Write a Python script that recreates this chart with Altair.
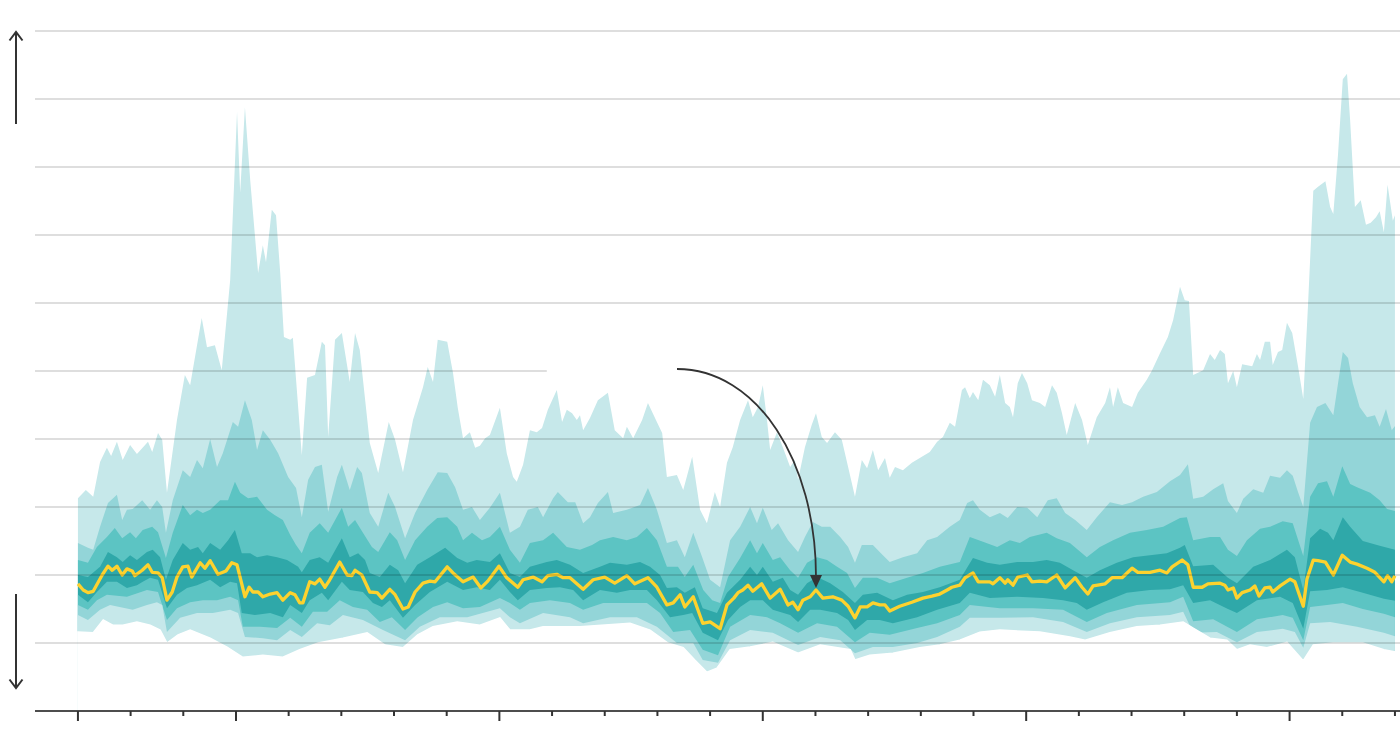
import altair as alt
import pandas as pd

# ---------------- data (years, value) ----------------
outer_hi_t = [
    1997.00, 1997.15, 1997.29, 1997.42, 1997.55, 1997.63, 1997.74, 1997.85, 1997.99, 1998.12,
    1998.33, 1998.41, 1998.52, 1998.60, 1998.69, 1998.88, 1999.03, 1999.13, 1999.35, 1999.45,
    1999.60, 1999.73, 1999.89, 2000.02, 2000.08, 2000.17, 2000.27, 2000.42, 2000.51, 2000.57,
    2000.68, 2000.76, 2000.84, 2000.91, 2001.03, 2001.08, 2001.25, 2001.35, 2001.50, 2001.63,
    2001.69, 2001.75, 2001.88, 2002.01, 2002.16, 2002.26, 2002.35, 2002.54, 2002.70, 2002.90,
    2003.02, 2003.17, 2003.36, 2003.55, 2003.64, 2003.74, 2003.83, 2004.01, 2004.12, 2004.21,
    2004.31, 2004.44, 2004.54, 2004.63, 2004.73, 2004.82, 2005.01, 2005.14, 2005.26, 2005.33,
    2005.45, 2005.58, 2005.71, 2005.81, 2005.92, 2006.09, 2006.19, 2006.28, 2006.38, 2006.47,
    2006.53, 2006.59, 2006.72, 2006.87, 2007.06, 2007.19, 2007.35, 2007.42, 2007.54, 2007.71,
    2007.82, 2007.99, 2008.09, 2008.18, 2008.37, 2008.49, 2008.66, 2008.81, 2008.94, 2009.09,
    2009.19, 2009.32, 2009.43, 2009.57, 2009.72, 2009.81, 2009.91, 2010.00, 2010.08, 2010.14,
    2010.27, 2010.38, 2010.52, 2010.61, 2010.67, 2010.80, 2010.93, 2011.01, 2011.12, 2011.22,
    2011.37, 2011.50, 2011.62, 2011.75, 2011.88, 2011.98, 2012.09, 2012.19, 2012.32, 2012.41,
    2012.51, 2012.66, 2012.83, 2013.02, 2013.17, 2013.31, 2013.42, 2013.55, 2013.65, 2013.78,
    2013.84, 2013.93, 2013.99, 2014.09, 2014.18, 2014.31, 2014.41, 2014.50, 2014.60, 2014.69,
    2014.75, 2014.84, 2014.92, 2015.02, 2015.11, 2015.26, 2015.36, 2015.49, 2015.58, 2015.68,
    2015.77, 2015.93, 2016.06, 2016.17, 2016.34, 2016.50, 2016.59, 2016.65, 2016.74, 2016.84,
    2017.01, 2017.12, 2017.29, 2017.39, 2017.54, 2017.69, 2017.79, 2017.92, 2018.01, 2018.09,
    2018.17, 2018.36, 2018.49, 2018.58, 2018.68, 2018.77, 2018.83, 2018.93, 2019.00, 2019.10,
    2019.29, 2019.38, 2019.44, 2019.53, 2019.63, 2019.68, 2019.78, 2019.86, 2019.95, 2020.05,
    2020.16, 2020.26, 2020.35, 2020.45, 2020.54, 2020.68, 2020.77, 2020.83, 2020.92, 2021.01,
    2021.09, 2021.15, 2021.24, 2021.35, 2021.45, 2021.54, 2021.64, 2021.71, 2021.79, 2021.86,
    2021.96, 2022.00,
]
outer_hi_v = [
    3.13, 3.25, 3.15, 3.66, 3.87, 3.75, 3.96, 3.69, 3.91, 3.78,
    3.96, 3.81, 4.09, 3.99, 3.21, 4.28, 4.94, 4.79, 5.78, 5.35,
    5.38, 5.01, 6.34, 8.81, 7.62, 8.88, 7.81, 6.44, 6.85, 6.60,
    7.37, 7.29, 6.44, 5.50, 5.46, 5.49, 3.76, 4.90, 4.94, 5.43,
    5.38, 4.03, 5.46, 5.56, 4.84, 5.56, 5.31, 3.94, 3.50, 4.25,
    3.99, 3.51, 4.28, 4.76, 5.06, 4.84, 5.46, 5.43, 4.97, 4.46,
    4.01, 4.10, 3.87, 3.90, 4.01, 4.06, 4.46, 3.79, 3.44, 3.37,
    3.62, 4.13, 4.10, 4.16, 4.43, 4.72, 4.25, 4.43, 4.38, 4.28,
    4.35, 4.13, 4.31, 4.57, 4.68, 4.13, 4.01, 4.18, 4.01, 4.28,
    4.53, 4.25, 4.09, 3.44, 3.47, 3.25, 3.74, 2.96, 2.76, 3.22,
    3.00, 3.65, 3.88, 4.28, 4.57, 4.32, 4.47, 4.79, 4.28, 3.84,
    4.10, 3.88, 3.59, 3.69, 3.40, 3.88, 4.21, 4.38, 4.03, 3.94,
    4.10, 3.99, 3.59, 3.15, 3.69, 3.57, 3.84, 3.54, 3.72, 3.43,
    3.59, 3.54, 3.65, 3.74, 3.81, 3.96, 4.03, 4.24, 4.18, 4.72,
    4.76, 4.60, 4.69, 4.57, 4.87, 4.79, 4.62, 4.94, 4.53, 4.47,
    4.32, 4.82, 4.97, 4.82, 4.57, 4.53, 4.47, 4.79, 4.68, 4.38,
    4.06, 4.53, 4.28, 3.91, 4.32, 4.53, 4.76, 4.47, 4.76, 4.53,
    4.47, 4.68, 4.87, 5.01, 5.26, 5.50, 5.75, 6.24, 6.04, 6.03,
    4.94, 5.01, 5.25, 5.16, 5.31, 5.25, 4.82, 5.00, 4.76, 5.10,
    5.07, 5.25, 5.16, 5.43, 5.43, 5.09, 5.28, 5.31, 5.71, 5.56,
    5.07, 4.59, 5.97, 7.65, 7.71, 7.79, 7.41, 7.31, 8.19, 9.29,
    9.37, 8.68, 7.41, 7.51, 7.15, 7.18, 7.26, 7.35, 7.04, 7.74,
    7.21, 7.29,
]

mid_hi_t = [
    1997.00, 1997.19, 1997.29, 1997.42, 1997.57, 1997.74, 1997.84, 1997.93, 1998.04, 1998.22,
    1998.37, 1998.50, 1998.60, 1998.67, 1998.80, 1998.99, 1999.13, 1999.26, 1999.37, 1999.51,
    1999.64, 1999.75, 1999.94, 2000.04, 2000.17, 2000.30, 2000.40, 2000.51, 2000.65, 2000.80,
    2000.99, 2001.14, 2001.25, 2001.37, 2001.50, 2001.63, 2001.75, 2001.92, 2002.01, 2002.16,
    2002.30, 2002.39, 2002.54, 2002.70, 2002.89, 2003.02, 2003.21, 2003.40, 2003.63, 2003.83,
    2004.01, 2004.16, 2004.31, 2004.48, 2004.63, 2004.82, 2005.01, 2005.20, 2005.39, 2005.54,
    2005.73, 2005.83, 2006.02, 2006.11, 2006.30, 2006.44, 2006.59, 2006.72, 2006.87, 2007.06,
    2007.16, 2007.42, 2007.67, 2007.82, 2007.99, 2008.18, 2008.37, 2008.52, 2008.68, 2008.85,
    2009.00, 2009.19, 2009.38, 2009.57, 2009.76, 2009.89, 2010.00, 2010.17, 2010.29, 2010.48,
    2010.67, 2010.80, 2010.95, 2011.12, 2011.28, 2011.47, 2011.62, 2011.75, 2011.88, 2012.09,
    2012.28, 2012.41, 2012.66, 2012.93, 2013.12, 2013.31, 2013.55, 2013.74, 2013.88, 2013.99,
    2014.12, 2014.31, 2014.50, 2014.65, 2014.83, 2015.02, 2015.21, 2015.41, 2015.58, 2015.74,
    2015.93, 2016.15, 2016.34, 2016.59, 2016.82, 2017.01, 2017.22, 2017.48, 2017.73, 2017.92,
    2018.07, 2018.17, 2018.36, 2018.55, 2018.74, 2018.83, 2019.00, 2019.12, 2019.31, 2019.50,
    2019.63, 2019.82, 2019.95, 2020.06, 2020.16, 2020.26, 2020.39, 2020.52, 2020.68, 2020.83,
    2020.92, 2021.01, 2021.11, 2021.20, 2021.33, 2021.47, 2021.62, 2021.71, 2021.83, 2021.94,
    2022.00,
]
mid_hi_v = [
    2.47, 2.40, 2.37, 2.71, 3.06, 3.18, 2.81, 2.96, 2.97, 3.10,
    2.96, 3.10, 3.00, 2.62, 3.10, 3.54, 3.44, 3.69, 3.57, 4.00,
    3.59, 3.79, 4.25, 4.18, 4.57, 4.28, 3.84, 4.13, 3.99, 3.79,
    3.44, 3.28, 2.85, 3.40, 3.59, 3.62, 2.93, 3.44, 3.62, 3.25,
    3.59, 3.50, 2.91, 2.71, 3.21, 3.00, 2.54, 2.91, 3.25, 3.51,
    3.50, 3.29, 2.96, 3.00, 2.81, 2.99, 3.21, 2.62, 2.71, 2.96,
    3.00, 2.85, 3.13, 3.22, 3.07, 3.07, 2.76, 2.85, 3.06, 3.22,
    2.91, 2.96, 3.03, 3.28, 2.96, 2.47, 2.51, 2.26, 2.62, 2.26,
    1.93, 1.82, 2.51, 2.71, 3.00, 2.76, 2.99, 2.66, 2.76, 2.51,
    2.34, 2.56, 2.78, 2.71, 2.71, 2.56, 2.41, 2.18, 2.44, 2.44,
    2.29, 2.19, 2.26, 2.32, 2.51, 2.56, 2.71, 2.81, 3.06, 3.10,
    2.96, 2.85, 2.91, 2.84, 3.00, 2.99, 2.85, 3.10, 3.13, 2.91,
    2.81, 2.66, 2.85, 3.07, 3.03, 3.07, 3.15, 3.22, 3.38, 3.47,
    3.63, 3.12, 3.15, 3.26, 3.35, 3.09, 2.91, 3.12, 3.26, 3.21,
    3.46, 3.43, 3.54, 3.46, 3.22, 3.00, 4.24, 4.47, 4.53, 4.35,
    4.82, 5.28, 5.19, 4.82, 4.47, 4.32, 4.35, 4.18, 4.44, 4.13,
    4.19,
]

in2_hi_t = [
    1997.00, 1997.19, 1997.36, 1997.55, 1997.70, 1997.84, 1997.99, 1998.10, 1998.23, 1998.41,
    1998.52, 1998.67, 1998.80, 1998.99, 1999.13, 1999.26, 1999.37, 1999.51, 1999.70, 1999.85,
    1999.98, 2000.08, 2000.23, 2000.40, 2000.59, 2000.74, 2000.89, 2001.03, 2001.14, 2001.25,
    2001.40, 2001.59, 2001.75, 2002.01, 2002.13, 2002.26, 2002.41, 2002.58, 2002.70, 2002.92,
    2003.06, 2003.21, 2003.40, 2003.63, 2003.82, 2004.01, 2004.20, 2004.31, 2004.48, 2004.67,
    2004.82, 2005.01, 2005.20, 2005.39, 2005.58, 2005.83, 2006.02, 2006.28, 2006.53, 2006.76,
    2006.91, 2007.16, 2007.42, 2007.61, 2007.80, 2007.99, 2008.18, 2008.39, 2008.52, 2008.68,
    2008.87, 2009.04, 2009.19, 2009.34, 2009.57, 2009.76, 2009.89, 2010.00, 2010.19, 2010.33,
    2010.52, 2010.67, 2010.84, 2011.03, 2011.22, 2011.41, 2011.60, 2011.75, 2011.90, 2012.17,
    2012.41, 2012.74, 2013.04, 2013.36, 2013.74, 2013.93, 2014.18, 2014.45, 2014.69, 2014.88,
    2015.07, 2015.39, 2015.58, 2015.83, 2016.15, 2016.40, 2016.65, 2016.97, 2017.29, 2017.60,
    2017.92, 2018.05, 2018.17, 2018.49, 2018.68, 2018.83, 2019.00, 2019.19, 2019.44, 2019.63,
    2019.87, 2020.06, 2020.26, 2020.39, 2020.54, 2020.71, 2020.83, 2021.00, 2021.15, 2021.28,
    2021.53, 2021.71, 2021.85, 2022.00,
]
in2_hi_v = [
    2.22, 2.18, 2.41, 2.56, 2.69, 2.54, 2.63, 2.54, 2.66, 2.71,
    2.63, 2.25, 2.62, 3.03, 2.88, 2.96, 2.91, 2.96, 3.10, 3.10,
    3.37, 3.21, 3.13, 3.15, 2.96, 2.88, 2.81, 2.59, 2.44, 2.32,
    2.62, 2.76, 2.62, 2.99, 2.71, 2.81, 2.62, 2.41, 2.34, 2.63,
    2.51, 2.22, 2.51, 2.71, 2.84, 2.85, 2.71, 2.51, 2.62, 2.51,
    2.56, 2.71, 2.37, 2.18, 2.47, 2.51, 2.62, 2.41, 2.37, 2.44,
    2.51, 2.56, 2.51, 2.56, 2.69, 2.51, 2.12, 2.12, 1.97, 2.15,
    1.78, 1.63, 1.59, 1.97, 2.25, 2.51, 2.32, 2.47, 2.22, 2.26,
    2.07, 1.96, 2.18, 2.26, 2.22, 2.12, 2.03, 1.81, 1.96, 1.96,
    1.88, 1.96, 2.03, 2.12, 2.19, 2.56, 2.49, 2.41, 2.51, 2.47,
    2.56, 2.62, 2.54, 2.47, 2.26, 2.41, 2.51, 2.62, 2.66, 2.71,
    2.84, 2.85, 2.51, 2.56, 2.56, 2.37, 2.28, 2.51, 2.68, 2.71,
    2.79, 2.76, 2.28, 3.15, 3.35, 3.38, 3.15, 3.60, 3.34, 3.29,
    3.21, 3.10, 2.97, 2.94,
]

in1_hi_t = [
    1997.00, 1997.19, 1997.42, 1997.57, 1997.74, 1997.85, 1997.99, 1998.12, 1998.31, 1998.42,
    1998.56, 1998.67, 1998.80, 1998.99, 1999.13, 1999.28, 1999.37, 1999.51, 1999.70, 1999.85,
    1999.98, 2000.11, 2000.27, 2000.40, 2000.59, 2000.78, 2000.97, 2001.18, 2001.25, 2001.40,
    2001.59, 2001.75, 2002.01, 2002.16, 2002.32, 2002.45, 2002.54, 2002.73, 2002.92, 2003.08,
    2003.21, 2003.44, 2003.68, 2003.97, 2004.20, 2004.39, 2004.57, 2004.82, 2005.01, 2005.20,
    2005.39, 2005.58, 2005.90, 2006.09, 2006.34, 2006.59, 2006.91, 2007.10, 2007.42, 2007.67,
    2007.86, 2008.05, 2008.18, 2008.37, 2008.52, 2008.71, 2008.86, 2009.13, 2009.32, 2009.57,
    2009.76, 2009.89, 2010.00, 2010.19, 2010.38, 2010.52, 2010.67, 2010.84, 2011.03, 2011.28,
    2011.52, 2011.75, 2011.90, 2012.17, 2012.47, 2012.74, 2013.04, 2013.36, 2013.74, 2013.99,
    2014.26, 2014.50, 2014.83, 2015.13, 2015.39, 2015.64, 2015.89, 2016.15, 2016.40, 2016.72,
    2017.03, 2017.35, 2017.67, 2017.92, 2018.01, 2018.17, 2018.55, 2018.83, 2019.00, 2019.31,
    2019.63, 2019.95, 2020.10, 2020.26, 2020.39, 2020.58, 2020.73, 2020.83, 2021.01, 2021.15,
    2021.39, 2021.71, 2022.00,
]
in1_hi_v = [
    2.00, 1.97, 2.12, 2.34, 2.26, 2.19, 2.29, 2.22, 2.34, 2.37,
    2.26, 1.93, 2.22, 2.47, 2.37, 2.41, 2.32, 2.47, 2.37, 2.51,
    2.66, 2.32, 2.32, 2.26, 2.29, 2.26, 2.22, 2.12, 2.04, 2.22,
    2.26, 2.18, 2.54, 2.26, 2.32, 2.22, 2.03, 1.97, 2.15, 2.07,
    1.88, 2.15, 2.26, 2.40, 2.25, 2.18, 2.22, 2.19, 2.32, 2.03,
    1.97, 2.12, 2.19, 2.22, 2.15, 2.03, 2.12, 2.18, 2.15, 2.19,
    2.12, 2.00, 1.81, 1.82, 1.74, 1.82, 1.51, 1.44, 1.74, 1.93,
    2.12, 2.00, 2.12, 1.90, 1.96, 1.78, 1.71, 1.88, 1.97, 1.88,
    1.75, 1.59, 1.71, 1.74, 1.63, 1.71, 1.75, 1.82, 1.93, 2.25,
    2.18, 2.15, 2.19, 2.19, 2.22, 2.18, 2.07, 1.96, 2.07, 2.18,
    2.26, 2.29, 2.32, 2.40, 2.44, 2.13, 2.15, 1.96, 1.88, 2.12,
    2.22, 2.37, 2.26, 1.78, 2.54, 2.68, 2.62, 2.51, 2.85, 2.71,
    2.50, 2.43, 2.37,
]

median_t = [
    1997.00, 1997.10, 1997.19, 1997.29, 1997.46, 1997.57, 1997.65, 1997.74, 1997.84, 1997.93,
    1998.03, 1998.08, 1998.22, 1998.33, 1998.41, 1998.52, 1998.60, 1998.69, 1998.79, 1998.88,
    1998.99, 1999.09, 1999.16, 1999.32, 1999.41, 1999.51, 1999.66, 1999.81, 1999.92, 2000.02,
    2000.17, 2000.25, 2000.32, 2000.42, 2000.51, 2000.65, 2000.78, 2000.89, 2001.03, 2001.12,
    2001.21, 2001.27, 2001.40, 2001.50, 2001.59, 2001.69, 2001.78, 2001.97, 2002.11, 2002.20,
    2002.26, 2002.39, 2002.54, 2002.68, 2002.77, 2002.92, 2003.02, 2003.17, 2003.27, 2003.40,
    2003.55, 2003.68, 2003.78, 2004.01, 2004.12, 2004.31, 2004.50, 2004.65, 2004.78, 2004.99,
    2005.14, 2005.35, 2005.45, 2005.64, 2005.81, 2005.92, 2006.09, 2006.21, 2006.34, 2006.59,
    2006.78, 2007.00, 2007.19, 2007.42, 2007.57, 2007.82, 2007.99, 2008.18, 2008.30, 2008.43,
    2008.52, 2008.68, 2008.86, 2009.00, 2009.19, 2009.32, 2009.45, 2009.53, 2009.62, 2009.72,
    2009.81, 2009.98, 2010.14, 2010.33, 2010.48, 2010.57, 2010.67, 2010.76, 2010.90, 2011.01,
    2011.14, 2011.33, 2011.50, 2011.62, 2011.75, 2011.85, 2011.98, 2012.09, 2012.22, 2012.32,
    2012.41, 2012.60, 2012.83, 2013.04, 2013.21, 2013.36, 2013.50, 2013.59, 2013.74, 2013.84,
    2013.99, 2014.09, 2014.31, 2014.37, 2014.50, 2014.60, 2014.65, 2014.75, 2014.84, 2015.02,
    2015.11, 2015.26, 2015.39, 2015.58, 2015.74, 2015.93, 2016.06, 2016.17, 2016.27, 2016.50,
    2016.63, 2016.82, 2017.01, 2017.12, 2017.35, 2017.54, 2017.67, 2017.77, 2017.96, 2018.07,
    2018.17, 2018.34, 2018.45, 2018.68, 2018.77, 2018.83, 2018.93, 2019.00, 2019.10, 2019.25,
    2019.34, 2019.42, 2019.53, 2019.63, 2019.68, 2019.82, 2020.01, 2020.10, 2020.26, 2020.33,
    2020.45, 2020.54, 2020.68, 2020.83, 2021.00, 2021.15, 2021.28, 2021.47, 2021.62, 2021.79,
    2021.86, 2021.94, 2022.00,
]
median_v = [
    1.87, 1.78, 1.74, 1.76, 2.00, 2.13, 2.07, 2.13, 2.00, 2.09,
    2.06, 1.99, 2.07, 2.15, 2.04, 2.03, 1.96, 1.63, 1.75, 1.97,
    2.12, 2.13, 1.97, 2.18, 2.10, 2.21, 2.01, 2.06, 2.18, 2.15,
    1.68, 1.82, 1.75, 1.75, 1.68, 1.72, 1.74, 1.63, 1.74, 1.71,
    1.59, 1.59, 1.90, 1.87, 1.94, 1.82, 1.93, 2.19, 2.00, 1.99,
    2.07, 2.00, 1.75, 1.74, 1.66, 1.79, 1.71, 1.50, 1.53, 1.75,
    1.88, 1.91, 1.90, 2.12, 2.03, 1.90, 1.97, 1.81, 1.91, 2.13,
    1.96, 1.82, 1.93, 1.97, 1.90, 1.99, 2.01, 1.96, 1.96, 1.79,
    1.93, 1.97, 1.88, 1.99, 1.87, 1.96, 1.82, 1.56, 1.59, 1.71,
    1.53, 1.68, 1.29, 1.31, 1.21, 1.56, 1.66, 1.74, 1.78, 1.85,
    1.76, 1.87, 1.66, 1.79, 1.56, 1.60, 1.49, 1.63, 1.68, 1.78,
    1.66, 1.68, 1.63, 1.54, 1.37, 1.53, 1.53, 1.59, 1.56, 1.56,
    1.47, 1.54, 1.60, 1.66, 1.69, 1.72, 1.78, 1.82, 1.85, 1.96,
    2.03, 1.90, 1.90, 1.87, 1.96, 1.88, 1.93, 1.85, 1.97, 2.00,
    1.90, 1.91, 1.90, 2.00, 1.81, 1.96, 1.82, 1.72, 1.84, 1.87,
    1.96, 1.96, 2.10, 2.04, 2.04, 2.07, 2.03, 2.12, 2.22, 2.15,
    1.82, 1.82, 1.87, 1.88, 1.85, 1.78, 1.81, 1.66, 1.74, 1.78,
    1.84, 1.69, 1.81, 1.82, 1.75, 1.84, 1.94, 1.90, 1.54, 1.94,
    2.22, 2.21, 2.19, 2.00, 2.29, 2.19, 2.16, 2.10, 2.04, 1.90,
    1.99, 1.90, 1.99,
]

in1_lo_t = [
    1997.00, 1997.19, 1997.36, 1997.55, 1997.74, 1997.93, 1998.12, 1998.23, 1998.37, 1998.52,
    1998.69, 1998.88, 1999.07, 1999.26, 1999.51, 1999.70, 1999.89, 2000.02, 2000.11, 2000.36,
    2000.65, 2000.89, 2001.03, 2001.25, 2001.40, 2001.63, 2001.75, 2002.01, 2002.16, 2002.41,
    2002.60, 2002.77, 2002.92, 2003.17, 2003.40, 2003.68, 2004.01, 2004.31, 2004.57, 2004.82,
    2005.01, 2005.20, 2005.35, 2005.58, 2005.90, 2006.15, 2006.40, 2006.59, 2006.91, 2007.23,
    2007.48, 2007.80, 2007.99, 2008.24, 2008.49, 2008.66, 2008.86, 2009.15, 2009.34, 2009.57,
    2009.76, 2010.00, 2010.19, 2010.52, 2010.67, 2010.90, 2011.09, 2011.41, 2011.62, 2011.75,
    2011.98, 2012.22, 2012.47, 2012.93, 2013.31, 2013.74, 2013.93, 2014.31, 2014.83, 2015.32,
    2015.70, 2015.96, 2016.15, 2016.46, 2016.91, 2017.35, 2017.73, 2017.98, 2018.17, 2018.49,
    2018.83, 2019.00, 2019.38, 2019.82, 2020.06, 2020.26, 2020.39, 2020.71, 2021.01, 2021.39,
    2021.79, 2022.00,
]
in1_lo_v = [
    1.71, 1.60, 1.75, 1.90, 1.90, 1.81, 1.85, 1.90, 1.96, 1.93,
    1.51, 1.71, 1.81, 1.85, 1.93, 1.82, 1.90, 1.88, 1.44, 1.41,
    1.44, 1.38, 1.56, 1.44, 1.63, 1.74, 1.63, 1.90, 1.78, 1.75,
    1.59, 1.53, 1.63, 1.37, 1.56, 1.75, 1.90, 1.78, 1.82, 1.78,
    1.93, 1.75, 1.63, 1.78, 1.81, 1.82, 1.78, 1.63, 1.78, 1.74,
    1.78, 1.78, 1.63, 1.38, 1.41, 1.44, 1.15, 1.04, 1.34, 1.53,
    1.63, 1.63, 1.49, 1.41, 1.31, 1.49, 1.49, 1.44, 1.34, 1.19,
    1.34, 1.34, 1.29, 1.38, 1.49, 1.59, 1.74, 1.66, 1.68, 1.66,
    1.63, 1.59, 1.49, 1.60, 1.74, 1.78, 1.79, 1.85, 1.59, 1.63,
    1.50, 1.44, 1.63, 1.68, 1.59, 1.21, 1.76, 1.78, 1.82, 1.74,
    1.65, 1.62,
]

in2_lo_t = [
    1997.00, 1997.19, 1997.36, 1997.55, 1997.93, 1998.31, 1998.52, 1998.69, 1998.88, 1999.13,
    1999.37, 1999.64, 1999.89, 2000.04, 2000.13, 2000.46, 2000.78, 2001.03, 2001.25, 2001.46,
    2001.73, 2001.97, 2002.22, 2002.49, 2002.73, 2002.96, 2003.21, 2003.45, 2003.74, 2004.01,
    2004.31, 2004.63, 2005.01, 2005.20, 2005.39, 2005.58, 2005.96, 2006.34, 2006.59, 2006.97,
    2007.42, 2007.80, 2008.05, 2008.30, 2008.62, 2008.86, 2009.15, 2009.38, 2009.76, 2010.08,
    2010.33, 2010.67, 2011.03, 2011.41, 2011.75, 2012.03, 2012.41, 2012.93, 2013.31, 2013.74,
    2013.93, 2014.50, 2015.13, 2015.70, 2016.15, 2016.53, 2017.10, 2017.73, 2017.98, 2018.17,
    2018.55, 2019.00, 2019.38, 2019.87, 2020.06, 2020.26, 2020.39, 2020.71, 2021.01, 2021.39,
    2021.79, 2022.00,
]
in2_lo_v = [
    1.56, 1.49, 1.63, 1.71, 1.68, 1.78, 1.75, 1.34, 1.51, 1.60,
    1.63, 1.63, 1.68, 1.63, 1.24, 1.24, 1.22, 1.37, 1.24, 1.46,
    1.46, 1.63, 1.53, 1.49, 1.31, 1.38, 1.19, 1.38, 1.53, 1.60,
    1.51, 1.53, 1.66, 1.59, 1.49, 1.59, 1.63, 1.59, 1.49, 1.59,
    1.59, 1.59, 1.44, 1.16, 1.19, 0.90, 0.82, 1.24, 1.41, 1.38,
    1.29, 1.15, 1.29, 1.24, 1.01, 1.15, 1.12, 1.22, 1.29, 1.41,
    1.56, 1.51, 1.51, 1.49, 1.31, 1.44, 1.56, 1.60, 1.68, 1.32,
    1.35, 1.16, 1.35, 1.41, 1.37, 1.04, 1.53, 1.56, 1.59, 1.50,
    1.43, 1.38,
]

mid_lo_t = [
    1997.00, 1997.19, 1997.42, 1997.61, 1998.04, 1998.31, 1998.50, 1998.60, 1998.69, 1998.94,
    1999.26, 1999.56, 1999.89, 2000.04, 2000.17, 2000.51, 2000.78, 2001.03, 2001.25, 2001.54,
    2001.78, 2002.03, 2002.41, 2002.79, 2003.21, 2003.49, 2003.87, 2004.39, 2005.01, 2005.20,
    2005.39, 2005.83, 2006.34, 2006.59, 2007.10, 2007.61, 2007.99, 2008.37, 2008.68, 2008.86,
    2009.15, 2009.38, 2009.76, 2010.19, 2010.67, 2011.09, 2011.47, 2011.75, 2012.09, 2012.47,
    2012.93, 2013.31, 2013.74, 2013.93, 2014.50, 2015.13, 2015.70, 2016.15, 2016.59, 2017.10,
    2017.73, 2017.98, 2018.17, 2018.62, 2019.00, 2019.38, 2019.87, 2020.10, 2020.26, 2020.39,
    2020.77, 2021.28, 2021.79, 2022.00,
]
mid_lo_v = [
    1.41, 1.34, 1.49, 1.56, 1.49, 1.56, 1.60, 1.56, 1.16, 1.37,
    1.44, 1.44, 1.49, 1.44, 1.09, 1.07, 1.04, 1.19, 1.09, 1.29,
    1.26, 1.41, 1.34, 1.19, 1.04, 1.24, 1.38, 1.38, 1.51, 1.38,
    1.29, 1.44, 1.38, 1.29, 1.38, 1.38, 1.24, 1.00, 1.00, 0.75,
    0.71, 1.04, 1.19, 1.15, 0.97, 1.09, 1.04, 0.85, 0.94, 0.94,
    1.00, 1.09, 1.24, 1.37, 1.37, 1.38, 1.31, 1.16, 1.29, 1.38,
    1.41, 1.46, 1.15, 1.16, 1.01, 1.16, 1.21, 1.16, 0.93, 1.29,
    1.31, 1.24, 1.15, 1.10,
]

outer_lo_t = [
    1997.00, 1997.29, 1997.48, 1997.67, 1997.85, 1998.12, 1998.37, 1998.56, 1998.69, 1998.90,
    1999.13, 1999.51, 1999.83, 2000.13, 2000.51, 2000.89, 2001.21, 2001.56, 2002.03, 2002.49,
    2002.83, 2003.17, 2003.45, 2003.74, 2004.20, 2004.63, 2005.01, 2005.20, 2005.58, 2005.83,
    2006.53, 2007.48, 2007.86, 2008.20, 2008.49, 2008.71, 2008.94, 2009.13, 2009.38, 2009.76,
    2010.19, 2010.67, 2011.09, 2011.66, 2011.75, 2012.03, 2012.47, 2012.98, 2013.36, 2013.74,
    2014.12, 2014.50, 2015.26, 2015.83, 2016.12, 2016.59, 2017.10, 2017.54, 2017.98, 2018.17,
    2018.49, 2018.81, 2019.00, 2019.25, 2019.57, 2019.95, 2020.26, 2020.45, 2020.83, 2021.39,
    2021.79, 2022.00,
]
outer_lo_v = [
    1.16, 1.15, 1.34, 1.26, 1.26, 1.31, 1.26, 1.19, 1.00, 1.12,
    1.19, 1.07, 0.94, 0.79, 0.82, 0.79, 0.90, 1.00, 1.07, 1.15,
    0.97, 0.93, 1.12, 1.24, 1.31, 1.26, 1.37, 1.19, 1.19, 1.24,
    1.24, 1.29, 1.19, 1.00, 0.93, 0.75, 0.57, 0.63, 0.90, 0.94,
    1.01, 0.85, 0.97, 0.90, 0.75, 0.82, 0.85, 0.93, 0.97, 1.04,
    1.16, 1.19, 1.16, 1.09, 1.04, 1.15, 1.24, 1.26, 1.31, 1.22,
    1.07, 1.04, 0.90, 0.97, 0.93, 1.01, 0.74, 0.97, 1.00, 1.00,
    0.90, 0.87,
]

grid_values = [1, 2, 3, 4, 5, 6, 7, 8, 9, 10]
tick_years = list(range(1997, 2023))
major_years = [1997, 2000, 2005, 2010, 2015, 2020]

# ---------------- styling ----------------
X0, X1 = 1996.185, 2022.096
GAP = (2005.90, 2009.00)  # break in the gridline at value 5
C_OUTER = "#c6e8ea"
C_MID = "#93d5d8"
C_IN2 = "#5cc4c3"
C_IN1 = "#2fa8a9"
C_MED = "#fdd22e"
INK = "#333333"

xs = alt.Scale(domain=[X0, X1], nice=False, zero=False)
ys = alt.Scale(domain=[0, 10], nice=False, zero=False)


def fill_down(t, v, color, stroke=None):
    n = min(len(t), len(v))
    df = pd.DataFrame({"t": t[:n], "v": v[:n]})
    kw = dict(color=color, opacity=1, interpolate="linear")
    if stroke:
        kw.update(stroke=stroke, strokeWidth=1.5)
    return alt.Chart(df).mark_area(**kw).encode(
        x=alt.X("t:Q", scale=xs, axis=None),
        y=alt.Y("v:Q", scale=ys, axis=None, stack=None),
    )


layers = [
    fill_down(outer_hi_t, outer_hi_v, C_OUTER),
    fill_down(mid_hi_t, mid_hi_v, C_MID),
    fill_down(in2_hi_t, in2_hi_v, C_IN2),
    fill_down(in1_hi_t, in1_hi_v, C_IN1),
    fill_down(in1_lo_t, in1_lo_v, C_IN2),
    fill_down(in2_lo_t, in2_lo_v, C_MID),
    fill_down(mid_lo_t, mid_lo_v, C_OUTER),
    fill_down(outer_lo_t, outer_lo_v, "#ffffff", stroke="#ffffff"),
]

n = min(len(median_t), len(median_v))
med_df = pd.DataFrame({"t": median_t[:n], "v": median_v[:n]})
layers.append(
    alt.Chart(med_df).mark_line(color=C_MED, strokeWidth=3.3, strokeJoin="round").encode(
        x=alt.X("t:Q", scale=xs, axis=None),
        y=alt.Y("v:Q", scale=ys, axis=None),
    )
)

# gridlines
g_rows = []
for g in grid_values:
    if g == 5:
        g_rows.append({"v": g, "t0": X0, "t1": GAP[0]})
        g_rows.append({"v": g, "t0": GAP[1], "t1": X1})
    else:
        g_rows.append({"v": g, "t0": X0, "t1": X1})
grid_df = pd.DataFrame(g_rows)
layers.append(
    alt.Chart(grid_df).mark_rule(color="#000000", opacity=0.13, strokeWidth=2).encode(
        x=alt.X("t0:Q", scale=xs, axis=None),
        x2="t1:Q",
        y=alt.Y("v:Q", scale=ys, axis=None),
    )
)

# x axis baseline
base_df = pd.DataFrame({"v": [0], "t0": [X0], "t1": [X1]})
layers.append(
    alt.Chart(base_df).mark_rule(color="#4d4d4d", strokeWidth=2).encode(
        x=alt.X("t0:Q", scale=xs, axis=None), x2="t1:Q",
        y=alt.Y("v:Q", scale=ys, axis=None),
    )
)

# ticks
tick_df = pd.DataFrame({"year": tick_years, "major": [y in major_years for y in tick_years]})
layers.append(
    alt.Chart(tick_df).transform_filter("datum.major").mark_rule(color=INK, strokeWidth=2).encode(
        x=alt.X("year:Q", scale=xs, axis=None), y=alt.value(680), y2=alt.value(690)
    )
)
layers.append(
    alt.Chart(tick_df).transform_filter("!datum.major").mark_rule(color=INK, strokeWidth=2).encode(
        x=alt.X("year:Q", scale=xs, axis=None), y=alt.value(680), y2=alt.value(685)
    )
)

# decorations: vertical arrows at left and curved pointer
one = pd.DataFrame({"a": [0]})
layers.append(
    alt.Chart(one).mark_rule(color=INK, strokeWidth=2).encode(
        x=alt.value(-19), y=alt.value(2), y2=alt.value(93)
    )
)
layers.append(
    alt.Chart(one).mark_point(shape="M-6.5,8.5L0,0L6.5,8.5", filled=False, size=4, opacity=1,
                              color=INK, strokeWidth=2).encode(x=alt.value(-19), y=alt.value(1))
)
layers.append(
    alt.Chart(one).mark_rule(color=INK, strokeWidth=2).encode(
        x=alt.value(-19), y=alt.value(563), y2=alt.value(656)
    )
)
layers.append(
    alt.Chart(one).mark_point(shape="M-6.5,-8.5L0,0L6.5,-8.5", filled=False, size=4, opacity=1,
                              color=INK, strokeWidth=2).encode(x=alt.value(-19), y=alt.value(657))
)
layers.append(
    alt.Chart(one).mark_point(shape="M0,0C80,0 139,92 139,208", filled=False, size=4, opacity=1,
                              color=INK, strokeWidth=1.8).encode(x=alt.value(642), y=alt.value(338))
)
layers.append(
    alt.Chart(one).mark_point(shape="M133,206L145,206L139,219Z", filled=True, size=4, opacity=1,
                              color=INK).encode(x=alt.value(642), y=alt.value(338))
)

chart = alt.layer(*layers).properties(
    width=1365,
    height=680,
    padding={"left": 35, "top": 31, "right": 0, "bottom": 43},
    autosize=alt.AutoSizeParams(type="none"),
    background="#ffffff",
).configure_view(stroke=None)

chart.save("out.html", embed_options={"renderer": "svg", "actions": False})
